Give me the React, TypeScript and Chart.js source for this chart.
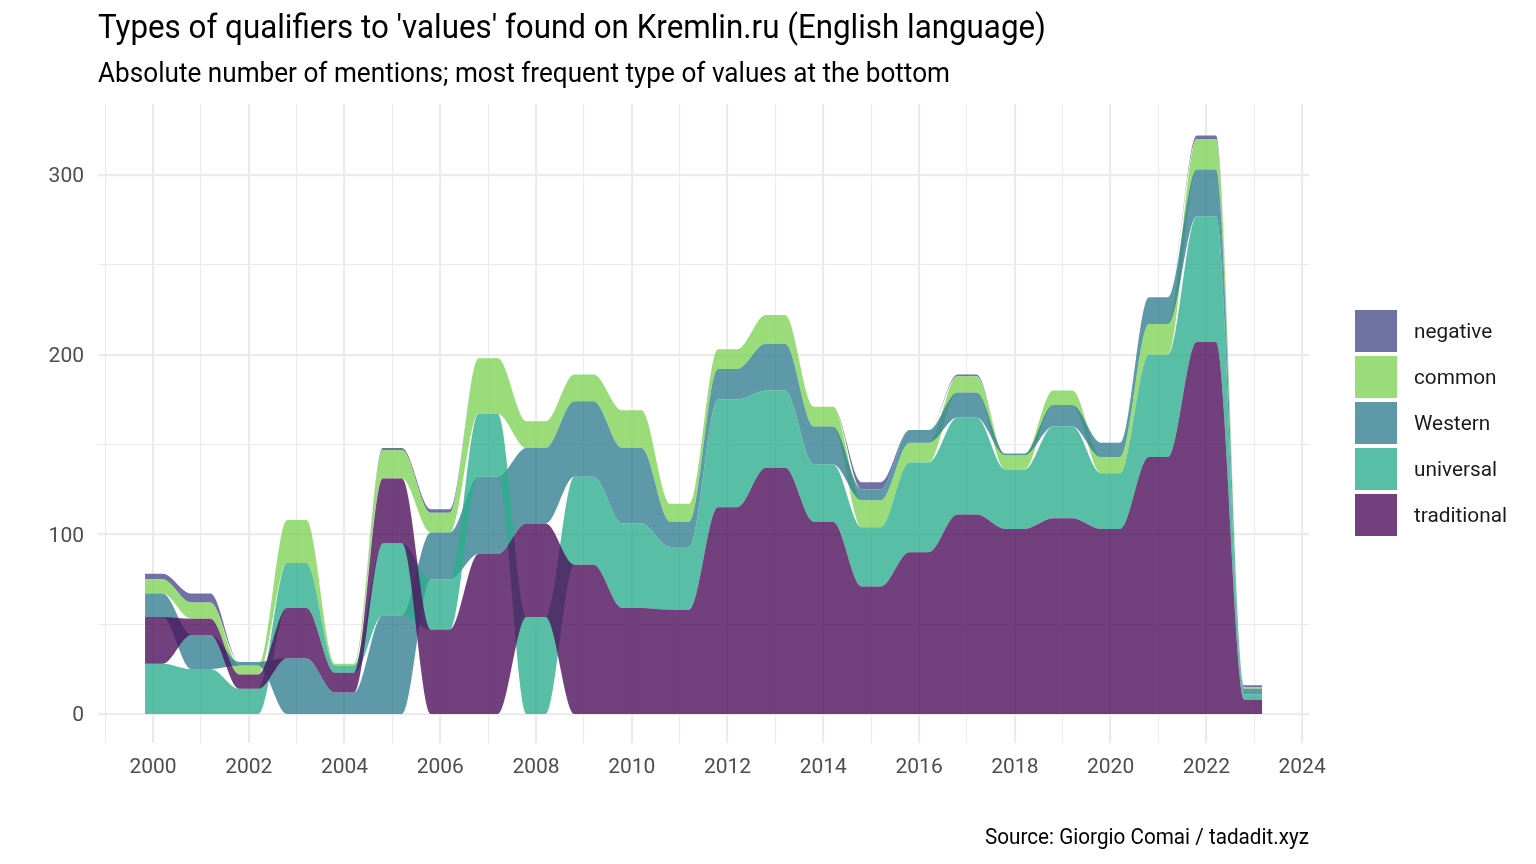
import React, { useEffect, useRef } from "react";
import { Chart, registerables } from "chart.js";

Chart.register(...registerables);

// ---------------- data ----------------
const years = [2000, 2001, 2002, 2003, 2004, 2005, 2006, 2007, 2008, 2009, 2010, 2011, 2012, 2013, 2014, 2015, 2016, 2017, 2018, 2019, 2020, 2021, 2022, 2023];
const traditional = [26, 9, 8, 28, 11, 36, 47, 89, 52, 83, 59, 58, 115, 137, 107, 71, 90, 111, 103, 109, 103, 143, 207, 8];
const universal = [28, 25, 14, 25, 4, 40, 28, 35, 54, 49, 47, 35, 60, 43, 32, 33, 50, 54, 33, 51, 31, 57, 70, 3];
const western = [13, 19, 2, 31, 12, 55, 26, 43, 42, 42, 42, 14, 17, 26, 21, 6, 7, 14, 1, 12, 8, 15, 26, 3];
const common = [8, 9, 5, 24, 1, 16, 11, 31, 15, 15, 21, 10, 11, 16, 11, 15, 11, 9, 8, 8, 9, 17, 17, 1];
const negative = [3, 5, 0, 0, 0, 1, 2, 0, 0, 0, 0, 0, 0, 0, 0, 4, 0, 1, 0, 0, 0, 0, 2, 1];

// drawing order: first entry ends up on top; also the tie-break order for stacking
const seriesNames = ["traditional", "universal", "Western", "common", "negative"];
const legendNames = ["negative", "common", "Western", "universal", "traditional"];

const xMajorTicks = [2000, 2002, 2004, 2006, 2008, 2010, 2012, 2014, 2016, 2018, 2020, 2022, 2024];
const xMinorTicks = [1999, 2001, 2003, 2005, 2007, 2009, 2011, 2013, 2015, 2017, 2019, 2021, 2023];
const yMajorTicks = [0, 100, 200, 300];
const yMinorTicks = [50, 150, 250];

const titleText = "Types of qualifiers to 'values' found on Kremlin.ru (English language)";
const subtitleText = "Absolute number of mentions; most frequent type of values at the bottom";
const captionText = "Source: Giorgio Comai / tadadit.xyz";

// ---------------- styles ----------------
const colors: Record<string, string> = {
  traditional: "rgba(78,16,93,0.8)",
  universal: "rgba(46,174,142,0.8)",
  Western: "rgba(54,128,146,0.8)",
  common: "rgba(130,211,89,0.8)",
  negative: "rgba(76,79,140,0.8)",
};
const FONT = "Roboto, 'DejaVu Sans', sans-serif";
const PLATEAU = 0.2; // half width of the flat part around each year
const EDGE = 1 / 6; // overhang at both ends

const valuesByName: Record<string, number[]> = {
  traditional,
  universal,
  Western: western,
  common,
  negative,
};

function buildBands() {
  const lowers: Record<string, number[]> = {};
  const uppers: Record<string, number[]> = {};
  seriesNames.forEach((nm) => {
    lowers[nm] = [];
    uppers[nm] = [];
  });
  for (let i = 0; i < years.length; i++) {
    const sorted = seriesNames.slice().sort((a, b) => valuesByName[b][i] - valuesByName[a][i]);
    let cum = 0;
    for (const nm of sorted) {
      lowers[nm].push(cum);
      cum += valuesByName[nm][i];
      uppers[nm].push(cum);
    }
  }
  return { lowers, uppers };
}

function toPoints(arr: number[]) {
  const pts: { x: number; y: number }[] = [];
  const n = years.length;
  for (let i = 0; i < n; i++) {
    const x0 = i === 0 ? years[i] - EDGE : years[i] - PLATEAU;
    const x1 = i === n - 1 ? years[i] + EDGE : years[i] + PLATEAU;
    pts.push({ x: x0, y: arr[i] }, { x: x1, y: arr[i] });
  }
  return pts;
}

function fittedText(
  ctx: CanvasRenderingContext2D,
  text: string,
  x: number,
  y: number,
  size: number,
  targetW: number,
  align: "left" | "right",
  color: string
) {
  ctx.save();
  ctx.font = `${size}px ${FONT}`;
  const w = ctx.measureText(text).width;
  const sx = targetW / w;
  ctx.fillStyle = color;
  ctx.textAlign = "left";
  ctx.textBaseline = "alphabetic";
  const left = align === "right" ? x - targetW : x;
  ctx.translate(left, y);
  ctx.scale(sx, 1);
  ctx.fillText(text, 0, 0);
  ctx.restore();
}

const decorPlugin = {
  id: "decor",
  afterDraw(chart: any) {
    const ctx: CanvasRenderingContext2D = chart.ctx;
    const area = chart.chartArea;
    fittedText(ctx, titleText, area.left, 38, 33, 948, "left", "#000000");
    fittedText(ctx, subtitleText, area.left, 82, 27, 852, "left", "#000000");
    fittedText(ctx, captionText, area.right, 844, 22, 324, "right", "#000000");

    // legend
    const boxX = 1355;
    const boxTop = 310;
    const box = 42;
    const step = 46;
    ctx.save();
    ctx.font = `20px ${FONT}`;
    const sx = 93 / ctx.measureText("traditional").width;
    legendNames.forEach((nm, k) => {
      const top = boxTop + k * step;
      ctx.fillStyle = colors[nm];
      ctx.fillRect(boxX, top, box, box);
      ctx.save();
      ctx.fillStyle = "#1a1a1a";
      ctx.textBaseline = "middle";
      ctx.textAlign = "left";
      ctx.translate(1414, top + box / 2 + 2);
      ctx.scale(sx, 1);
      ctx.fillText(nm, 0, 0);
      ctx.restore();
    });
    ctx.restore();
  },
};

const xMajorSet = new Set(xMajorTicks);
const yMajorSet = new Set(yMajorTicks);

export default function App() {
  const ref = useRef<HTMLCanvasElement>(null);

  useEffect(() => {
    document.body.style.margin = "0";
    document.body.style.overflow = "hidden";
    const { lowers, uppers } = buildBands();
    const datasets: any[] = [];
    seriesNames.forEach((nm) => {
      datasets.push({
        label: nm + " lower",
        data: toPoints(lowers[nm]),
        borderColor: "rgba(0,0,0,0)",
        borderWidth: 0,
        pointRadius: 0,
        fill: false,
        cubicInterpolationMode: "monotone",
      });
      datasets.push({
        label: nm,
        data: toPoints(uppers[nm]),
        borderColor: "rgba(0,0,0,0)",
        borderWidth: 0,
        pointRadius: 0,
        fill: "-1",
        backgroundColor: colors[nm],
        cubicInterpolationMode: "monotone",
      });
    });

    const chart = new Chart(ref.current as HTMLCanvasElement, {
      type: "line",
      data: { datasets },
      options: {
        animation: false,
        responsive: false,
        events: [],
        layout: { padding: { left: 0, top: 104, right: 227, bottom: 71 } },
        plugins: {
          legend: { display: false },
          tooltip: { enabled: false },
          title: { display: false },
        },
        scales: {
          x: {
            type: "linear",
            min: 1998.851,
            max: 2024.144,
            afterBuildTicks: (scale: any) => {
              scale.ticks = [...xMajorTicks, ...xMinorTicks].sort((a, b) => a - b).map((v) => ({ value: v }));
            },
            afterFit: (scale: any) => {
              scale.height = 50;
            },
            border: { display: false },
            grid: {
              color: "#ebebeb",
              lineWidth: (c: any) => (c.tick && xMajorSet.has(c.tick.value) ? 2.2 : 1.1),
              drawTicks: false,
            },
            ticks: {
              autoSkip: false,
              maxRotation: 0,
              minRotation: 0,
              padding: 12,
              color: "#4d4d4d",
              font: { family: FONT, size: 21 },
              callback: (v: any) => (xMajorSet.has(Number(v)) ? String(v) : ""),
            },
          },
          y: {
            type: "linear",
            min: -16.14,
            max: 339.5,
            afterBuildTicks: (scale: any) => {
              scale.ticks = [...yMajorTicks, ...yMinorTicks].sort((a, b) => a - b).map((v) => ({ value: v }));
            },
            afterFit: (scale: any) => {
              scale.width = 98;
            },
            border: { display: false },
            grid: {
              color: "#ebebeb",
              lineWidth: (c: any) => (c.tick && yMajorSet.has(c.tick.value) ? 2.2 : 1.1),
              drawTicks: false,
            },
            ticks: {
              padding: 14,
              labelOffset: 2,
              color: "#4d4d4d",
              font: { family: FONT, size: 21 },
              callback: (v: any) => (yMajorSet.has(Number(v)) ? String(v) : ""),
            },
          },
        },
      },
      plugins: [decorPlugin],
    } as any);
    return () => chart.destroy();
  }, []);

  return (
    <div style={{ position: "absolute", left: 0, top: 0, width: 1536, height: 864, background: "#ffffff" }}>
      <canvas ref={ref} width={1536} height={864} style={{ width: 1536, height: 864, display: "block" }} />
    </div>
  );
}
